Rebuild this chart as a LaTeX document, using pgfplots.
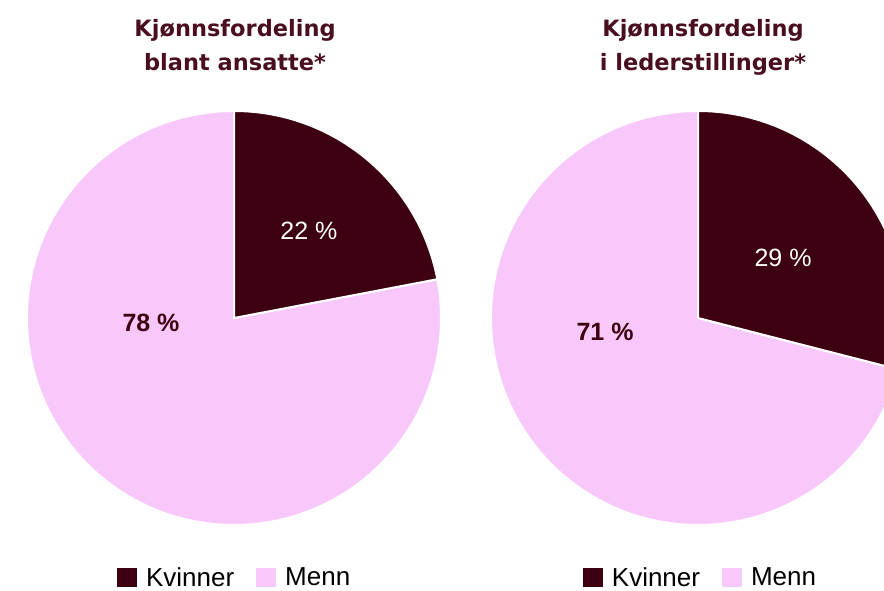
\documentclass[border=0pt]{standalone}
\usepackage{pgfplots}
\pgfplotsset{compat=1.18}
\usepackage{pgfplotstable}
\usepackage{fontspec}
\setmainfont{Liberation Sans}
\newfontfamily\titlefont{DejaVu Sans}
\definecolor{wine}{HTML}{3D0010}
\definecolor{pinkc}{HTML}{F9C8FA}
\definecolor{titlec}{HTML}{4A0F1E}

\pgfplotstableread{
group kvinner menn
ansatte 22 78
ledere 29 71
}\piedata
\pgfplotstablegetelem{0}{kvinner}\of\piedata \let\KvA\pgfplotsretval
\pgfplotstablegetelem{1}{kvinner}\of\piedata \let\KvB\pgfplotsretval
\pgfmathsetmacro\angA{90-3.6*\KvA}
\pgfmathsetmacro\angB{90-3.6*\KvB}

\pgfplotsset{
  pieaxis/.style={
    anchor=origin, x=207pt, y=207pt,
    xmin=-1, xmax=1, ymin=-1, ymax=1,
    hide axis, clip=false,
    legend columns=2,
    legend style={draw=none, fill=none, inner sep=0pt, outer sep=0pt,
      font=\fontsize{26}{26}\selectfont, anchor=west,
      /tikz/every odd column/.append style={column sep=7pt},
      /tikz/every even column/.append style={column sep=20pt}},
    legend image code/.code={\fill[##1, draw=none] (0pt,-9.5pt) rectangle (20pt,9.5pt);},
  },
}

\begin{document}
\begin{tikzpicture}
\useasboundingbox (0,0) rectangle (884pt,590pt);
\clip (0,0) rectangle (884pt,590pt);

% left pie
\begin{axis}[pieaxis, at={(234pt,272pt)},
  legend style={at={(axis cs:-0.565,-1.2536)}}]
\addlegendimage{fill=wine, draw=none}
\addlegendentry{Kvinner}
\addlegendimage{fill=pinkc, draw=none}
\addlegendentry{Menn}
\fill[pinkc, draw=white, line width=2pt] (axis cs:0,0) -- (axis cs:0,1) arc[start angle=90, end angle=\angA-360, radius=207pt] -- cycle;
\fill[wine, draw=white, line width=2pt] (axis cs:0,0) -- (axis cs:0,1) arc[start angle=90, end angle=\angA, radius=207pt] -- cycle;
\node[white, font=\fontsize{25}{25}\selectfont] at (axis cs:0.362,0.420) {22 \%};
\node[wine, font=\fontsize{25}{25}\selectfont\bfseries] at (axis cs:-0.401,-0.024) {78 \%};
\node[titlec, anchor=base, font=\titlefont\fontsize{22.5}{22.5}\selectfont\bfseries] at (axis cs:0.005,1.3623) {Kjønnsfordeling};
\node[titlec, anchor=base, font=\titlefont\fontsize{22.5}{22.5}\selectfont\bfseries] at (axis cs:0.005,1.198) {blant ansatte*};
\end{axis}

% right pie
\begin{axis}[pieaxis, at={(698pt,272pt)},
  legend style={at={(axis cs:-0.556,-1.2536)}}]
\addlegendimage{fill=wine, draw=none}
\addlegendentry{Kvinner}
\addlegendimage{fill=pinkc, draw=none}
\addlegendentry{Menn}
\fill[pinkc, draw=white, line width=2pt] (axis cs:0,0) -- (axis cs:0,1) arc[start angle=90, end angle=\angB-360, radius=207pt] -- cycle;
\fill[wine, draw=white, line width=2pt] (axis cs:0,0) -- (axis cs:0,1) arc[start angle=90, end angle=\angB, radius=207pt] -- cycle;
\node[white, font=\fontsize{25}{25}\selectfont] at (axis cs:0.411,0.290) {29 \%};
\node[wine, font=\fontsize{25}{25}\selectfont\bfseries] at (axis cs:-0.449,-0.068) {71 \%};
\node[titlec, anchor=base, font=\titlefont\fontsize{22.5}{22.5}\selectfont\bfseries] at (axis cs:0.024,1.3623) {Kjønnsfordeling};
\node[titlec, anchor=base, font=\titlefont\fontsize{22.5}{22.5}\selectfont\bfseries] at (axis cs:0.024,1.198) {i lederstillinger*};
\end{axis}
\end{tikzpicture}
\end{document}
